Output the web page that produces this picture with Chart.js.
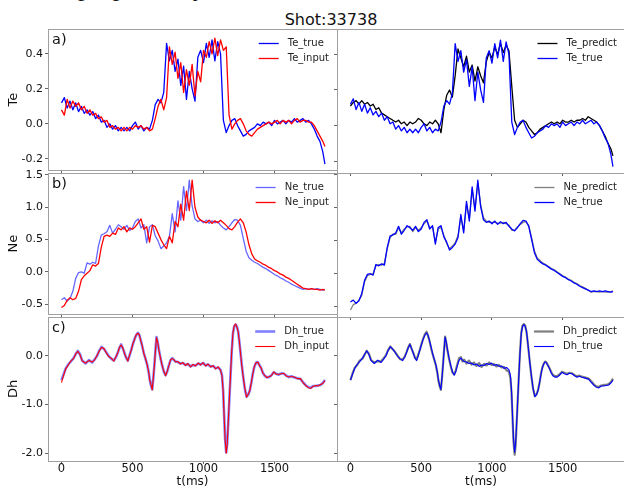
<!DOCTYPE html>
<html>
<head>
<meta charset="utf-8">
<script src="https://cdn.jsdelivr.net/npm/chart.js@4.4.0/dist/chart.umd.min.js"></script>
<style>
  html, body { margin: 0; padding: 0; background: #fff; overflow: hidden; }
  body { width: 624px; height: 487px; position: relative; font-family: "DejaVu Sans", sans-serif; }
  canvas { position: absolute; }
  #title { position: absolute; left: 231px; width: 200px; top: 10px; text-align: center; font-size: 16px; color: #111; white-space: nowrap; }
  #cut { position: absolute; left: 78px; top: -25px; font: 26px/26px "Liberation Serif", serif; color: #111; white-space: nowrap; }
</style>
</head>
<body>
<div id="cut">proposed by</div>
<div id="title">Shot:33738</div>
<script>
// time axis for Te / Ne (ms)
const timeMs = [
  0, 20, 40, 60, 80, 100, 120, 140, 160, 180,
  200, 220, 240, 260, 280, 300, 320, 340, 360, 380,
  400, 420, 440, 460, 480, 500, 520, 540, 560, 580,
  600, 620, 640, 660, 680, 700, 720, 740, 760, 780,
  800, 820, 840, 860, 880, 900, 920, 940, 960, 980,
  1000, 1020, 1040, 1060, 1080, 1100, 1120, 1140, 1160, 1180,
  1200, 1220, 1240, 1260, 1280, 1300, 1320, 1340, 1360, 1380,
  1400, 1420, 1440, 1460, 1480, 1500, 1520, 1540, 1560, 1580,
  1600, 1620, 1640, 1660, 1680, 1700, 1720, 1740, 1760, 1780,
  1800, 1820, 1840, 1855
];

const teTrue = [
  0.12, 0.15, 0.09, 0.13, 0.08, 0.12, 0.07, 0.10, 0.06, 0.08,
  0.05, 0.07, 0.03, 0.05, 0.01, 0.02, -0.02, 0.00, -0.03, -0.01,
  -0.04, -0.02, -0.04, -0.02, -0.04, -0.01, 0.01, -0.03, -0.01, -0.04,
  -0.02, -0.03, 0.02, 0.11, 0.14, 0.12, 0.18, 0.46, 0.36, 0.42,
  0.30, 0.37, 0.22, 0.33, 0.14, 0.30, 0.20, 0.13, 0.38, 0.42,
  0.35, 0.46, 0.38, 0.48, 0.36, 0.47, 0.40, 0.02, -0.05, -0.01,
  0.02, 0.03, -0.01, -0.04, -0.07, -0.06, -0.04, -0.03, -0.02, 0.00,
  -0.01, 0.01, 0.00, 0.01, -0.01, 0.02, 0.00, 0.01, 0.02, 0.00,
  0.02, 0.01, 0.03, 0.01, 0.02, 0.03, 0.01, 0.02, 0.00, -0.03,
  -0.07, -0.10, -0.16, -0.23
];
const teInput = [
  0.08, 0.05, 0.14, 0.09, 0.13, 0.10, 0.12, 0.08, 0.10, 0.06,
  0.08, 0.05, 0.06, 0.03, 0.04, 0.01, 0.02, -0.02, -0.01, -0.03,
  -0.02, -0.04, -0.02, -0.04, -0.02, -0.03, -0.01, -0.02, -0.01, -0.03,
  -0.02, -0.04, -0.03, 0.03, 0.10, 0.14, 0.08, 0.15, 0.44, 0.34,
  0.41, 0.26, 0.35, 0.18, 0.31, 0.22, 0.34, 0.16, 0.30, 0.24,
  0.42, 0.38, 0.47, 0.40, 0.49, 0.39, 0.48, 0.42, 0.44, 0.05,
  -0.03, 0.00, 0.02, 0.03, 0.00, -0.04, -0.06, -0.07, -0.05, -0.03,
  -0.02, -0.01, 0.00, 0.01, 0.00, 0.01, 0.02, 0.00, 0.02, 0.01,
  0.02, 0.00, 0.02, 0.03, 0.01, 0.02, 0.02, 0.01, 0.01, -0.01,
  -0.04, -0.07, -0.10, -0.13
];
const tePredict = [
  0.11, 0.13, 0.14, 0.12, 0.14, 0.12, 0.13, 0.11, 0.12, 0.09,
  0.10, 0.07, 0.06, 0.05, 0.04, 0.03, 0.02, 0.03, 0.01, 0.02,
  0.00, 0.02, 0.01, 0.02, 0.04, 0.03, 0.01, 0.00, 0.02, 0.01,
  0.03, 0.01, -0.04, 0.09, 0.17, 0.20, 0.16, 0.28, 0.43, 0.38,
  0.33, 0.39, 0.30, 0.34, 0.25, 0.33, 0.28, 0.24, 0.36, 0.41,
  0.38, 0.44, 0.40, 0.46, 0.41, 0.45, 0.42, 0.22, 0.03, -0.01,
  0.01, 0.03, 0.02, -0.01, -0.03, -0.05, -0.04, -0.02, -0.01, 0.00,
  0.01, 0.02, 0.01, 0.02, 0.01, 0.03, 0.02, 0.02, 0.03, 0.02,
  0.03, 0.03, 0.04, 0.03, 0.05, 0.04, 0.03, 0.02, 0.00, -0.03,
  -0.06, -0.10, -0.13, -0.17
];

const neTrue = [
  -0.43, -0.40, -0.45, -0.41, -0.30, -0.10, -0.01, 0.00, -0.02, 0.14,
  0.12, 0.15, 0.13, 0.40, 0.57, 0.59, 0.62, 0.72, 0.60, 0.66,
  0.73, 0.70, 0.66, 0.72, 0.64, 0.68, 0.78, 0.82, 0.68, 0.73,
  0.45, 0.70, 0.73, 0.56, 0.48, 0.36, 0.40, 0.45, 0.55, 0.90,
  0.62, 1.10, 0.80, 1.32, 0.95, 1.42, 1.02, 0.82, 0.78, 0.80,
  0.76, 0.80, 0.75, 0.79, 0.76, 0.78, 0.72, 0.68, 0.65, 0.70,
  0.76, 0.81, 0.80, 0.72, 0.52, 0.32, 0.22, 0.18, 0.15, 0.13,
  0.10, 0.07, 0.05, 0.02, -0.01, -0.04, -0.06, -0.09, -0.11, -0.14,
  -0.16, -0.19, -0.21, -0.23, -0.25, -0.27, -0.26, -0.27, -0.26, -0.27,
  -0.26, -0.27, -0.28, -0.27
];
const neInput = [
  -0.55, -0.52, -0.44, -0.40, -0.43, -0.41, -0.30, -0.12, -0.06, -0.02,
  0.02, 0.11, 0.09, 0.13, 0.38, 0.55, 0.57, 0.55, 0.60, 0.58,
  0.68, 0.65, 0.70, 0.62, 0.68, 0.66, 0.70, 0.76, 0.82, 0.66,
  0.70, 0.46, 0.72, 0.70, 0.60, 0.50, 0.42, 0.36, 0.55, 0.45,
  0.78, 0.70, 1.05, 0.80, 1.25, 0.95, 1.42, 1.00, 0.85, 0.80,
  0.78, 0.76, 0.80, 0.75, 0.79, 0.76, 0.80, 0.76, 0.72, 0.67,
  0.65, 0.70, 0.77, 0.82, 0.76, 0.62, 0.42, 0.28, 0.20, 0.17,
  0.15, 0.12, 0.10, 0.07, 0.05, 0.02, 0.00, -0.03, -0.05, -0.08,
  -0.10, -0.13, -0.16, -0.19, -0.22, -0.25, -0.26, -0.27, -0.26, -0.27,
  -0.27, -0.28, -0.27, -0.28
];
const nePredict = [
  -0.55, -0.47, -0.45, -0.40, -0.33, -0.12, -0.03, -0.01, 0.00, 0.12,
  0.14, 0.13, 0.16, 0.38, 0.55, 0.60, 0.60, 0.70, 0.62, 0.68,
  0.71, 0.72, 0.64, 0.70, 0.66, 0.70, 0.76, 0.80, 0.70, 0.71,
  0.48, 0.68, 0.70, 0.58, 0.46, 0.38, 0.42, 0.47, 0.58, 0.86,
  0.65, 1.05, 0.84, 1.28, 0.98, 1.38, 1.05, 0.85, 0.80, 0.78,
  0.78, 0.78, 0.77, 0.77, 0.78, 0.76, 0.74, 0.66, 0.66, 0.71,
  0.75, 0.78, 0.79, 0.73, 0.55, 0.35, 0.24, 0.20, 0.16, 0.14,
  0.11, 0.08, 0.06, 0.03, 0.00, -0.03, -0.05, -0.08, -0.10, -0.13,
  -0.15, -0.18, -0.20, -0.22, -0.25, -0.28, -0.27, -0.27, -0.28, -0.27,
  -0.28, -0.28, -0.27, -0.26
];

// Dh is smoother but has sharp swings, so it gets its own time points
const dhTime = [
  0, 15, 30, 50, 65, 85, 100, 115, 130, 146,
  169, 193, 216, 235, 251, 265, 282, 298, 315, 333,
  350, 369, 385, 397, 408, 420, 432, 444, 456, 467,
  479, 491, 503, 514, 526, 538, 548, 557, 568, 580,
  592, 604, 614, 622, 631, 639, 647, 655, 662, 669,
  677, 686, 697, 709, 721, 733, 744, 756, 768, 780,
  792, 803, 820, 838, 855, 873, 890, 909, 926, 944,
  962, 980, 997, 1014, 1032, 1050, 1068, 1085, 1103, 1120,
  1130, 1138, 1145, 1152, 1160, 1167, 1174, 1182, 1190, 1198,
  1207, 1216, 1226, 1235, 1244, 1252, 1261, 1270, 1279, 1290,
  1303, 1315, 1326, 1337, 1347, 1356, 1366, 1375, 1383, 1395,
  1406, 1418, 1430, 1445, 1460, 1478, 1495, 1512, 1530, 1548,
  1566, 1584, 1601, 1618, 1636, 1660, 1683, 1700, 1718, 1736,
  1754, 1772, 1789, 1806, 1824, 1840, 1855
];
const dhTrue = [
  -0.50, -0.38, -0.26, -0.17, -0.12, -0.05, 0.03, 0.10, 0.03, -0.10,
  -0.16, -0.09, -0.14, -0.07, 0.00, 0.10, 0.18, 0.14, 0.07, -0.01,
  -0.06, -0.10, -0.02, 0.07, 0.16, 0.23, 0.15, 0.05, -0.05, -0.10,
  0.00, 0.12, 0.24, 0.34, 0.42, 0.47, 0.42, 0.33, 0.20, 0.05,
  -0.07, -0.19, -0.34, -0.50, -0.62, -0.69, -0.45, -0.16, 0.12, 0.38,
  0.28, 0.12, -0.05, -0.20, -0.33, -0.40, -0.33, -0.20, -0.09, -0.05,
  -0.09, -0.12, -0.13, -0.16, -0.15, -0.19, -0.17, -0.22, -0.19, -0.20,
  -0.16, -0.18, -0.15, -0.20, -0.18, -0.22, -0.21, -0.26, -0.24, -0.29,
  -0.40, -0.70, -1.20, -1.70, -1.98, -1.80, -1.40, -0.90, -0.42, 0.05,
  0.45, 0.60, 0.64, 0.60, 0.50, 0.30, 0.05, -0.20, -0.42, -0.66,
  -0.84, -0.80, -0.71, -0.55, -0.37, -0.25, -0.17, -0.13, -0.14, -0.20,
  -0.26, -0.35, -0.41, -0.44, -0.44, -0.40, -0.34, -0.37, -0.39, -0.36,
  -0.37, -0.41, -0.44, -0.42, -0.44, -0.46, -0.48, -0.54, -0.60, -0.64,
  -0.66, -0.62, -0.62, -0.61, -0.60, -0.56, -0.50
];
const dhInput = [
  -0.55, -0.40, -0.27, -0.18, -0.11, -0.06, 0.04, 0.09, 0.02, -0.11,
  -0.15, -0.10, -0.13, -0.08, 0.01, 0.09, 0.17, 0.15, 0.06, -0.02,
  -0.05, -0.11, -0.01, 0.06, 0.17, 0.22, 0.16, 0.04, -0.04, -0.11,
  0.01, 0.11, 0.25, 0.33, 0.43, 0.46, 0.43, 0.32, 0.21, 0.04,
  -0.06, -0.20, -0.33, -0.51, -0.61, -0.70, -0.44, -0.17, 0.13, 0.37,
  0.29, 0.11, -0.04, -0.21, -0.32, -0.41, -0.32, -0.21, -0.08, -0.06,
  -0.08, -0.13, -0.12, -0.17, -0.14, -0.20, -0.16, -0.23, -0.18, -0.21,
  -0.15, -0.19, -0.14, -0.21, -0.17, -0.23, -0.20, -0.27, -0.23, -0.30,
  -0.41, -0.71, -1.21, -1.72, -2.00, -1.82, -1.38, -0.88, -0.41, 0.06,
  0.46, 0.61, 0.65, 0.59, 0.49, 0.31, 0.04, -0.21, -0.43, -0.65,
  -0.85, -0.79, -0.72, -0.54, -0.38, -0.24, -0.16, -0.14, -0.13, -0.21,
  -0.25, -0.36, -0.40, -0.45, -0.43, -0.41, -0.33, -0.38, -0.38, -0.37,
  -0.36, -0.42, -0.43, -0.43, -0.43, -0.47, -0.47, -0.55, -0.61, -0.65,
  -0.67, -0.63, -0.61, -0.62, -0.59, -0.57, -0.51
];
const dhPredict = [
  -0.50, -0.36, -0.25, -0.18, -0.10, -0.06, 0.02, 0.10, 0.04, -0.09,
  -0.14, -0.11, -0.12, -0.05, 0.01, 0.11, 0.19, 0.13, 0.08, 0.00,
  -0.07, -0.08, -0.01, 0.08, 0.17, 0.24, 0.14, 0.06, -0.04, -0.08,
  0.02, 0.13, 0.25, 0.35, 0.44, 0.49, 0.41, 0.32, 0.18, 0.04,
  -0.08, -0.20, -0.35, -0.52, -0.63, -0.70, -0.46, -0.15, 0.13, 0.39,
  0.27, 0.10, -0.07, -0.22, -0.35, -0.38, -0.30, -0.17, -0.05, -0.03,
  -0.12, -0.08, -0.16, -0.10, -0.18, -0.14, -0.21, -0.15, -0.23, -0.17,
  -0.20, -0.14, -0.19, -0.17, -0.22, -0.19, -0.24, -0.23, -0.30, -0.33,
  -0.45, -0.75, -1.25, -1.75, -2.03, -1.85, -1.42, -0.92, -0.40, 0.07,
  0.47, 0.62, 0.65, 0.61, 0.49, 0.29, 0.04, -0.21, -0.43, -0.67,
  -0.83, -0.79, -0.70, -0.54, -0.36, -0.24, -0.16, -0.12, -0.13, -0.19,
  -0.25, -0.33, -0.39, -0.42, -0.42, -0.38, -0.33, -0.35, -0.37, -0.35,
  -0.36, -0.40, -0.42, -0.41, -0.43, -0.45, -0.47, -0.52, -0.58, -0.63,
  -0.64, -0.61, -0.60, -0.60, -0.58, -0.54, -0.47
];

// tick values
const xTicks = [0, 500, 1000, 1500];
const teTicks = [-0.2, 0.0, 0.2, 0.4];
const neTicks = [-0.5, 0.0, 0.5, 1.0, 1.5];
const dhTicks = [-2.0, -1.0, 0.0];

const FONT = "DejaVu Sans";
const frameColor = "#a0a0a0";
const tickColor = "#666";
const textColor = "#111";

// panel frames in page pixels
const colX = [[48, 337], [337, 625]];
const rowY = [[29, 173], [173, 317], [317, 461]];

const pts = (ts, vs) => ts.map((t, i) => ({ x: t, y: vs[i] }));

// frame, panel letter and a matplotlib-like legend in the upper right
const panelDeco = {
  id: "panelDeco",
  afterDatasetsDraw(chart, args, opts) {
    const { ctx, chartArea: a } = chart;
    ctx.save();
    ctx.strokeStyle = frameColor;
    ctx.lineWidth = 1;
    ctx.strokeRect(Math.round(a.left) + 0.5, Math.round(a.top) + 0.5,
      Math.round(a.right - a.left), Math.round(a.bottom - a.top));

    if (opts.letter) {
      ctx.fillStyle = textColor;
      ctx.font = "14.5px " + FONT;
      ctx.textBaseline = "alphabetic";
      ctx.fillText(opts.letter, a.left + 4, a.top + 15);
    }

    ctx.font = "10px " + FONT;
    const dss = chart.data.datasets;
    const maxW = Math.max(...dss.map(d => ctx.measureText(d.label).width));
    const textX = a.right - 8 - maxW;
    dss.forEach((d, i) => {
      const y = Math.round(a.top + 14 + 15 * i) + 0.5;
      ctx.beginPath();
      ctx.strokeStyle = d.borderColor;
      ctx.lineWidth = d.borderWidth;
      ctx.moveTo(textX - 29, y);
      ctx.lineTo(textX - 9, y);
      ctx.stroke();
      ctx.fillStyle = "#222";
      ctx.textBaseline = "middle";
      ctx.fillText(d.label, textX, y);
    });
    ctx.restore();
  }
};

function line(label, data, color, width, order) {
  return {
    label, data, order,
    borderColor: color,
    borderWidth: width,
    borderJoinStyle: "round",
    pointRadius: 0,
    tension: 0,
    fill: false
  };
}

function makePanel(p) {
  const padL = p.col === 0 ? 48 : 10;
  const padT = 10, padR = 2;
  const padB = p.row === 2 ? 28 : 6;
  const [x0, x1] = colX[p.col];
  const [y0, y1] = rowY[p.row];

  const cv = document.createElement("canvas");
  cv.width = (x1 - x0) + padL + padR;
  cv.height = (y1 - y0) + padT + padB;
  cv.style.left = (x0 - padL) + "px";
  cv.style.top = (y0 - padT) + "px";
  document.body.appendChild(cv);

  new Chart(cv.getContext("2d"), {
    type: "line",
    data: { datasets: p.datasets },
    options: {
      responsive: false,
      animation: false,
      devicePixelRatio: 1,
      layout: { padding: { left: 0, top: padT, right: padR, bottom: 0 } },
      plugins: {
        legend: { display: false },
        tooltip: { enabled: false },
        panelDeco: { letter: p.letter }
      },
      scales: {
        x: {
          type: "linear",
          min: -95,
          max: 1940,
          afterBuildTicks: s => { s.ticks = xTicks.map(v => ({ value: v })); },
          afterFit: s => { s.height = padB; },
          grid: { drawOnChartArea: false, drawTicks: true, tickLength: 3, color: tickColor },
          border: { display: false },
          ticks: {
            display: p.row === 2,
            maxRotation: 0,
            padding: -1,
            color: textColor,
            font: { family: FONT, size: 11.5, lineHeight: 1 },
            callback: v => String(v)
          },
          title: {
            display: p.row === 2,
            text: "t(ms)",
            color: textColor,
            padding: 0,
            font: { family: FONT, size: 12 }
          }
        },
        y: {
          type: "linear",
          min: p.yMin,
          max: p.yMax,
          afterBuildTicks: s => { s.ticks = p.yTicks.map(v => ({ value: v })); },
          afterFit: s => { s.width = padL; },
          grid: { drawOnChartArea: false, drawTicks: true, tickLength: 3, color: tickColor },
          border: { display: false },
          ticks: {
            display: p.col === 0,
            padding: 2,
            color: textColor,
            font: { family: FONT, size: 11 },
            callback: v => v.toFixed(1)
          },
          title: {
            display: p.col === 0,
            text: p.yName,
            color: textColor,
            padding: { top: 6, bottom: 0 },
            font: { family: FONT, size: 13 }
          }
        }
      }
    },
    plugins: [panelDeco]
  });
}

const teRange = { yMin: -0.266, yMax: 0.542, yTicks: teTicks };
const neRange = { yMin: -0.657, yMax: 1.53, yTicks: neTicks };
const dhRange = { yMin: -2.158, yMax: 0.793, yTicks: dhTicks };

const panels = [
  { row: 0, col: 0, yName: "Te", letter: "a)", ...teRange, datasets: [
    line("Te_true", pts(timeMs, teTrue), "#0000ff", 1.3, 1),
    line("Te_input", pts(timeMs, teInput), "#ff0000", 1.3, 0)
  ] },
  { row: 0, col: 1, ...teRange, datasets: [
    line("Te_predict", pts(timeMs, tePredict), "#000000", 1.3, 1),
    line("Te_true", pts(timeMs, teTrue), "#0000ff", 1.3, 0)
  ] },
  { row: 1, col: 0, yName: "Ne", letter: "b)", ...neRange, datasets: [
    line("Ne_true", pts(timeMs, neTrue), "rgba(0,0,255,0.6)", 1.3, 1),
    line("Ne_input", pts(timeMs, neInput), "#ff0000", 1.3, 0)
  ] },
  { row: 1, col: 1, ...neRange, datasets: [
    line("Ne_predict", pts(timeMs, nePredict), "rgba(0,0,0,0.5)", 1.3, 1),
    line("Ne_true", pts(timeMs, neTrue), "#0000ff", 1.3, 0)
  ] },
  { row: 2, col: 0, yName: "Dh", letter: "c)", ...dhRange, datasets: [
    line("Dh_true", pts(dhTime, dhTrue), "rgba(0,0,255,0.5)", 2.6, 1),
    line("Dh_input", pts(dhTime, dhInput), "#ff0000", 1.1, 0)
  ] },
  { row: 2, col: 1, ...dhRange, datasets: [
    line("Dh_predict", pts(dhTime, dhPredict), "rgba(0,0,0,0.5)", 2.2, 1),
    line("Dh_true", pts(dhTime, dhTrue), "#0000ff", 1.1, 0)
  ] }
];

panels.forEach(makePanel);
</script>
</body>
</html>
